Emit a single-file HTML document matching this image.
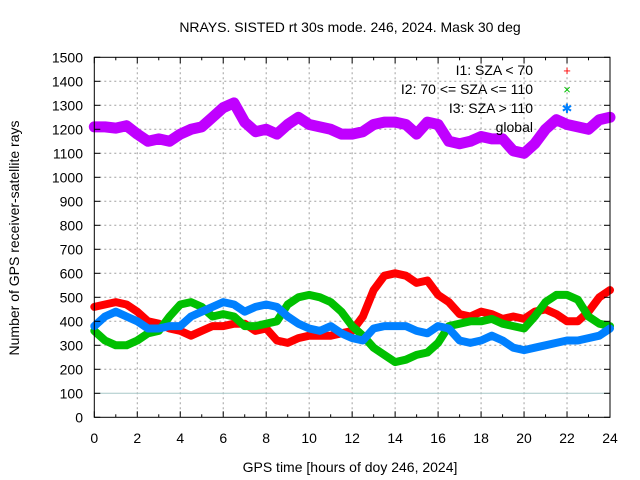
<!DOCTYPE html>
<html><head><meta charset="utf-8"><style>
body{margin:0;background:#fff;}
svg{display:block;font-family:"Liberation Sans",sans-serif;}
</style></head><body>
<svg id="chart" width="640" height="480" viewBox="0 0 640 480">
<text x="350" y="32" font-size="14" text-anchor="middle">NRAYS. SISTED rt 30s mode. 246, 2024. Mask 30 deg</text>
<text x="350" y="472" font-size="14" text-anchor="middle">GPS time [hours of doy 246, 2024]</text>
<text transform="translate(19,238) rotate(-90)" font-size="14" text-anchor="middle">Number of GPS receiver-satellite rays</text>
<g id="grid"></g><g id="series"></g><g id="axes"></g>
<g font-size="14" text-anchor="end">
<text x="533" y="75">I1: SZA &lt; 70</text>
<text x="533" y="94">I2: 70 &lt;= SZA &lt;= 110</text>
<text x="533" y="113">I3: SZA &gt; 110</text>
<text x="533" y="132">global</text>
<text x="567" y="75" fill="#ff0000" text-anchor="middle" font-size="13">+</text>
<text x="567" y="94" fill="#00c000" text-anchor="middle" font-size="13">×</text>
<text x="567" y="113" fill="#0080ff" text-anchor="middle" font-size="13">✱</text>
</g>
</svg>
<script>
const hours=[0,0.5,1,1.5,2,2.5,3,3.5,4,4.5,5,5.5,6,6.5,7,7.5,8,8.5,9,9.5,10,10.5,11,11.5,12,12.5,13,13.5,14,14.5,15,15.5,16,16.5,17,17.5,18,18.5,19,19.5,20,20.5,21,21.5,22,22.5,23,23.5,24];
const globalVals=[1210,1210,1205,1215,1180,1150,1160,1150,1180,1200,1210,1250,1290,1310,1230,1190,1200,1180,1220,1250,1220,1210,1200,1180,1180,1190,1220,1230,1230,1220,1180,1230,1220,1150,1140,1150,1170,1160,1160,1110,1100,1140,1200,1240,1220,1210,1200,1240,1250];
const i1Vals=[460,470,480,470,440,400,390,370,360,340,360,380,380,390,390,360,370,320,310,330,340,340,340,350,360,420,530,590,600,590,560,570,510,480,430,420,440,430,410,420,410,440,450,430,400,400,440,500,530];
const i2Vals=[360,320,300,300,320,350,360,420,470,480,460,420,430,420,380,380,390,400,470,500,510,500,480,440,380,340,290,260,230,240,260,270,310,380,390,400,400,410,390,380,370,420,480,510,510,490,420,390,380];
const i3Vals=[380,420,440,420,400,370,370,380,380,420,440,460,480,470,440,460,470,460,420,390,370,360,380,350,330,320,370,380,380,380,360,350,380,370,320,310,320,340,320,290,280,290,300,310,320,320,330,340,370];
const xTicks=[0,2,4,6,8,10,12,14,16,18,20,22,24];
const yTicks=[0,100,200,300,400,500,600,700,800,900,1000,1100,1200,1300,1400,1500];
const L=94.3,R=610,T=57.3,B=417.3;
const X=h=>L+h/24*(R-L);
const Y=v=>B-v/1500*(B-T);
const NS='http://www.w3.org/2000/svg';
function mk(p,tag,at){const e=document.createElementNS(NS,tag);for(const k in at)e.setAttribute(k,at[k]);p.appendChild(e);return e;}
const grid=document.getElementById('grid'),axes=document.getElementById('axes'),ser=document.getElementById('series');
xTicks.forEach(t=>{
 if(t>0&&t<24){const g=mk(grid,'line',{x1:X(t),x2:X(t),y1:T,y2:B,stroke:'#a0a0a0','stroke-dasharray':'2,3'});
 
 }
 const tx=mk(axes,'text',{x:X(t),y:443,'font-size':14,'text-anchor':'middle'});tx.textContent=t;
 
 
 mk(axes,'line',{x1:X(t),x2:X(t),y1:B,y2:B-6,stroke:'#000'});
 mk(axes,'line',{x1:X(t),x2:X(t),y1:T,y2:T+6,stroke:'#000'});
 if(t<24){mk(axes,'line',{x1:X(t+1),x2:X(t+1),y1:B,y2:B-3,stroke:'#000'});mk(axes,'line',{x1:X(t+1),x2:X(t+1),y1:T,y2:T+3,stroke:'#000'});}
});
yTicks.forEach(t=>{
 if(t>0&&t<1500&&t!==100){const g=mk(grid,'line',{x1:L,x2:R,y1:Y(t),y2:Y(t),stroke:'#a0a0a0','stroke-dasharray':'2,3'});
 
 }
 const tx=mk(axes,'text',{x:83,y:Y(t)+5,'font-size':14,'text-anchor':'end'});tx.textContent=t;
 
 
 mk(axes,'line',{x1:L,x2:L+6,y1:Y(t),y2:Y(t),stroke:'#000'});
 mk(axes,'line',{x1:R,x2:R-6,y1:Y(t),y2:Y(t),stroke:'#000'});
});
const ref=mk(grid,'line',{x1:L,x2:R,y1:Y(100),y2:Y(100),stroke:'#a8c8c8','stroke-width':1});


const fr=mk(axes,'rect',{x:L,y:T,width:R-L,height:B-T,fill:'none',stroke:'#000'});


function series(vals,color,w,name){
 const pts=hours.map((h,i)=>X(h).toFixed(1)+','+Y(vals[i]).toFixed(1)).join(' ');
 const p=mk(ser,'polyline',{points:pts,fill:'none',stroke:color,'stroke-width':w,'stroke-linejoin':'round','stroke-linecap':'round'});
 
 
}
series(globalVals,'#c000ff',11,'series-global');
series(i1Vals,'#ff0000',8,'series-i1');
series(i2Vals,'#00c000',8,'series-i2');
series(i3Vals,'#0080ff',8,'series-i3');
</script>
</body></html>
